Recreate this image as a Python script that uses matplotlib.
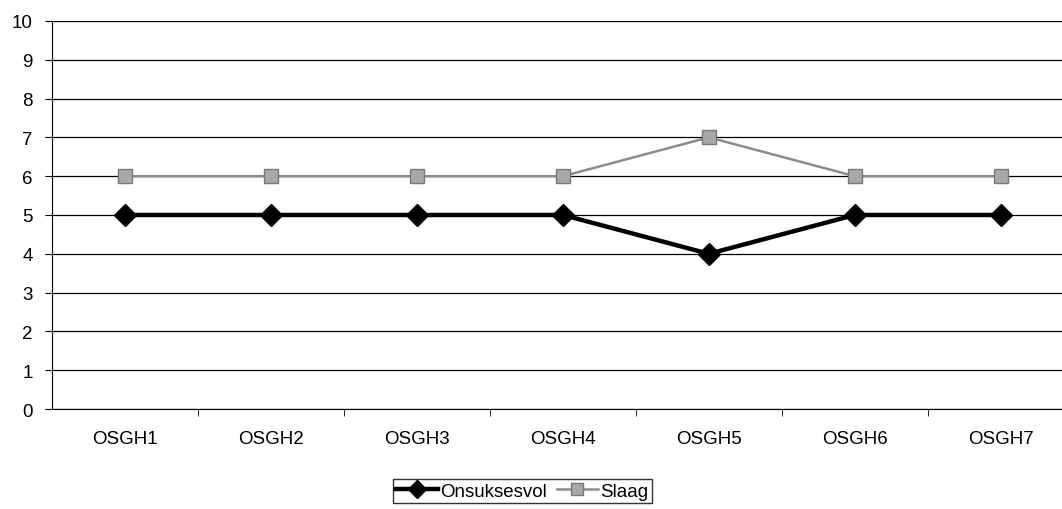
import matplotlib.pyplot as plt
import numpy as np

plt.rcParams['font.family'] = ['Liberation Sans', 'DejaVu Sans']

# Gegevens
categorieen = ['OSGH1', 'OSGH2', 'OSGH3', 'OSGH4', 'OSGH5', 'OSGH6', 'OSGH7']
onsuksesvol = [5, 5, 5, 5, 4, 5, 5]
slaag = [6, 6, 6, 6, 7, 6, 6]

x = np.arange(1, len(categorieen) + 1)

fig = plt.figure(figsize=(10.62, 5.10), dpi=100)
ax = fig.add_axes([0.049, 0.196, 0.962, 0.761])

# Lijnen
ax.plot(x, onsuksesvol, color='black', linewidth=3.2, marker='D', markersize=11,
        label='Onsuksesvol', zorder=4)
ax.plot(x, slaag, color='#8c8c8c', linewidth=1.8, marker='s', markersize=10,
        markerfacecolor='#a8a8a8', markeredgecolor='#7a7a7a',
        label='Slaag', zorder=3)

# Assen
ax.set_xlim(0.5, len(categorieen) + 0.5)
ax.set_ylim(0, 10)
ax.set_yticks(range(0, 11))
ax.set_xticks(x)
ax.set_xticklabels(categorieen)
ax.set_xticks(np.arange(1.5, len(categorieen)), minor=True)
ax.tick_params(axis='x', which='major', length=0, pad=15, labelsize=13.5)
ax.tick_params(axis='x', which='minor', length=5, direction='out', color='black')
ax.tick_params(axis='y', length=5, direction='out', labelsize=13.5, pad=9)

ax.grid(axis='y', color='black', linewidth=0.9)
ax.set_axisbelow(True)
for kant in ['top', 'right']:
    ax.spines[kant].set_visible(False)
ax.spines['left'].set_color('black')
ax.spines['bottom'].set_color('black')

leg = fig.legend(loc='center', bbox_to_anchor=(0.492, 0.035), ncol=2,
                 frameon=True, fancybox=False, fontsize=13.5, handlelength=2.2,
                 handletextpad=0.15, columnspacing=0.5, borderpad=0.2,
                 markerscale=0.8)
leg.get_frame().set_edgecolor('black')
leg.get_frame().set_linewidth(1)

fig.savefig('out.png', dpi=100)
